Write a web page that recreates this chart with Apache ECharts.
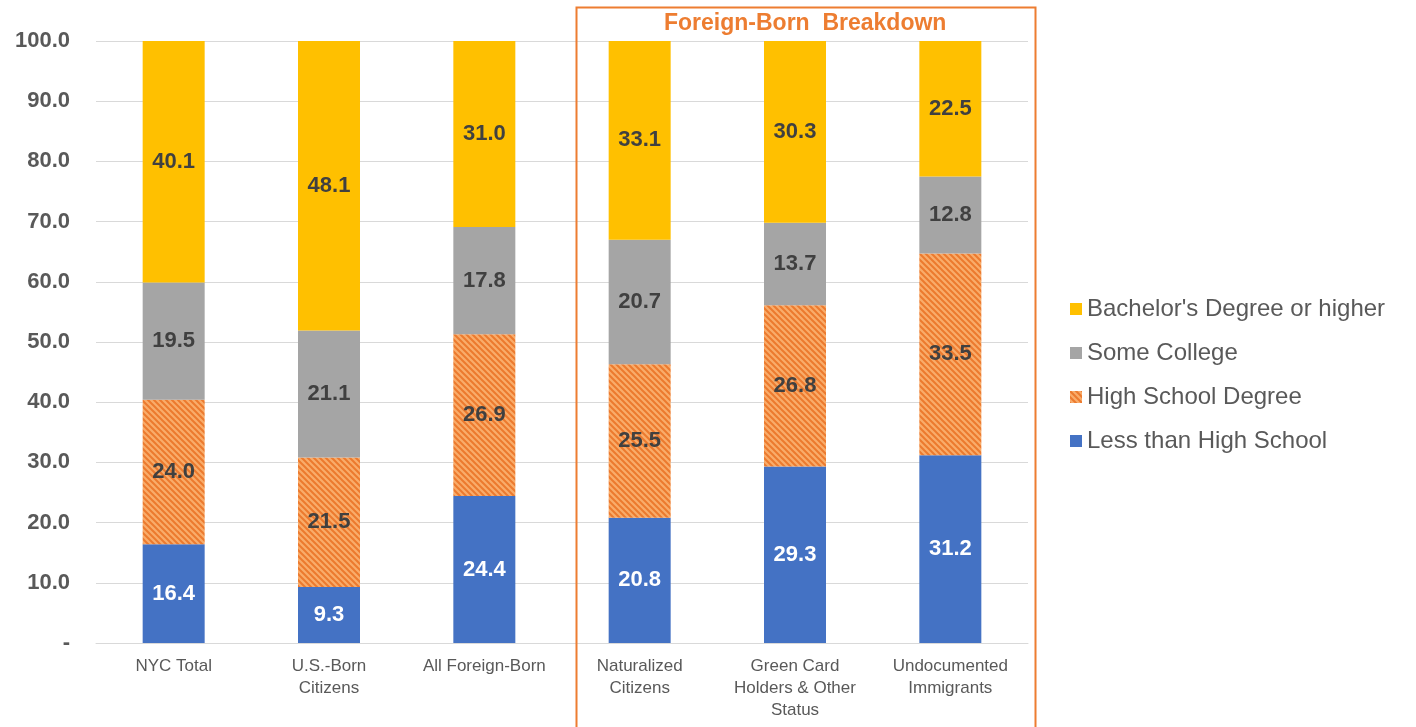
<!DOCTYPE html>
<html><head><meta charset="utf-8">
<script src="https://cdn.jsdelivr.net/npm/echarts@6/dist/echarts.min.js"></script>
<style>html,body{margin:0;padding:0;background:#fff}#c{width:1416px;height:727px}</style>
</head><body><div id="c"></div>
<script>
const categories = ['NYC Total', 'U.S.-Born\nCitizens', 'All Foreign-Born', 'Naturalized\nCitizens', 'Green Card\nHolders & Other\nStatus', 'Undocumented\nImmigrants'];
const lessThanHS = [16.4, 9.3, 24.4, 20.8, 29.3, 31.2];
const highSchool = [24.0, 21.5, 26.9, 25.5, 26.8, 33.5];
const someCollege = [19.5, 21.1, 17.8, 20.7, 13.7, 12.8];
const bachelors = [40.1, 48.1, 31.0, 33.1, 30.3, 22.5];
const yTicks = [0, 10, 20, 30, 40, 50, 60, 70, 80, 90, 100];

function hatch() {
  const c = document.createElement('canvas');
  c.width = 6; c.height = 6;
  const g = c.getContext('2d');
  g.fillStyle = '#F9AC6A'; g.fillRect(0, 0, 6, 6);
  g.strokeStyle = '#EC7A2E'; g.lineWidth = 2;
  g.beginPath();
  g.moveTo(-1, -1); g.lineTo(7, 7);
  g.moveTo(-4, 2); g.lineTo(2, 8);
  g.moveTo(2, -4); g.lineTo(8, 2);
  g.stroke();
  return { image: c, repeat: 'repeat' };
}

const FF = 'Liberation Sans, Arial, sans-serif';
const chart = echarts.init(document.getElementById('c'));
const lbl = (color) => ({ show: true, position: 'inside', color: color, fontSize: 22, fontWeight: 'bold', fontFamily: FF, formatter: p => p.value.toFixed(1) });
chart.setOption({
  animation: false,
  grid: { left: 96, right: 388, top: 41, bottom: 84 },
  legend: {
    orient: 'vertical', left: 1065, top: 292, itemGap: 20, itemWidth: 12, itemHeight: 12,
    icon: 'rect',
    textStyle: { fontSize: 24, color: '#595959', fontFamily: FF },
    data: ["Bachelor's Degree or higher", 'Some College', 'High School Degree', 'Less than High School']
  },
  xAxis: {
    type: 'category', data: categories,
    axisLine: { lineStyle: { color: '#D9D9D9', width: 1 } },
    axisTick: { show: false },
    axisLabel: { color: '#595959', fontSize: 17, lineHeight: 22, margin: 12, interval: 0, fontFamily: FF }
  },
  yAxis: {
    type: 'value', min: 0, max: 100, interval: 10,
    axisLine: { show: false }, axisTick: { show: false },
    splitLine: { lineStyle: { color: '#D9D9D9', width: 1 } },
    axisLabel: { color: '#595959', fontSize: 22, fontWeight: 'bold', margin: 26, fontFamily: FF,
      formatter: v => v === 0 ? '-' : v.toFixed(1) }
  },
  series: [
    { name: 'Less than High School', type: 'bar', stack: 's', data: lessThanHS, barWidth: 62, itemStyle: { color: '#4472C4' }, label: lbl('#FFFFFF') },
    { name: 'High School Degree', type: 'bar', stack: 's', data: highSchool, itemStyle: { color: hatch() }, label: lbl('#404040') },
    { name: 'Some College', type: 'bar', stack: 's', data: someCollege, itemStyle: { color: '#A5A5A5' }, label: lbl('#404040') },
    { name: "Bachelor's Degree or higher", type: 'bar', stack: 's', data: bachelors, itemStyle: { color: '#FFC000' }, label: lbl('#404040') }
  ],
  graphic: [
    { type: 'rect', left: 574, top: 5, shape: { width: 459, height: 740 }, style: { fill: 'none', stroke: '#ED7D31', lineWidth: 2 }, z: 10 },
    { type: 'text', left: 664, top: 12, style: { text: 'Foreign-Born  Breakdown', fill: '#ED7D31', font: 'bold 23px Liberation Sans, Arial, sans-serif' }, z: 10 }
  ]
});
</script></body></html>
